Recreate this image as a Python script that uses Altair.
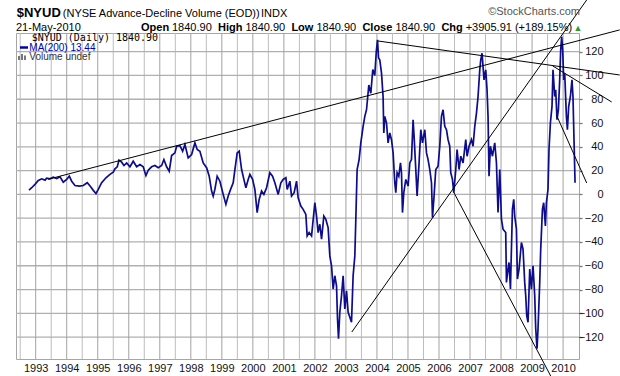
import altair as alt
import pandas as pd

# ---- data (decimal year, indicator value) ----
years = [
    1992.784, 1992.871, 1992.977, 1993.084, 1993.193, 1993.300, 1993.354, 1993.461, 1993.567, 1993.677,
    1993.783, 1993.889, 1993.999, 1994.082, 1994.160, 1994.266, 1994.405, 1994.534, 1994.662, 1994.772,
    1994.856, 1994.943, 1995.017, 1995.126, 1995.265, 1995.394, 1995.500, 1995.555, 1995.629, 1995.684,
    1995.771, 1995.845, 1995.932, 1996.038, 1996.144, 1996.254, 1996.360, 1996.466, 1996.553, 1996.628,
    1996.737, 1996.843, 1996.950, 1997.059, 1997.133, 1997.220, 1997.304, 1997.381, 1997.488, 1997.542,
    1997.649, 1997.736, 1997.810, 1997.916, 1998.026, 1998.132, 1998.206, 1998.293, 1998.399, 1998.509,
    1998.593, 1998.670, 1998.722, 1998.776, 1998.850, 1998.937, 1999.044, 1999.131, 1999.205, 1999.282,
    1999.366, 1999.421, 1999.495, 1999.559, 1999.637, 1999.711, 1999.775, 1999.849, 1999.904, 1999.991,
    2000.065, 2000.139, 2000.203, 2000.281, 2000.355, 2000.442, 2000.548, 2000.635, 2000.709, 2000.816,
    2000.903, 2000.977, 2001.064, 2001.106, 2001.193, 2001.247, 2001.331, 2001.408, 2001.460, 2001.547,
    2001.621, 2001.708, 2001.750, 2001.814, 2001.892, 2001.998, 2002.053, 2002.104, 2002.159, 2002.214,
    2002.288, 2002.352, 2002.426, 2002.481, 2002.536, 2002.588, 2002.642, 2002.697, 2002.729, 2002.761,
    2002.803, 2002.858, 2002.910, 2002.964, 2003.019, 2003.071, 2003.126, 2003.180, 2003.232, 2003.287,
    2003.319, 2003.361, 2003.425, 2003.480, 2003.554, 2003.609, 2003.664, 2003.738, 2003.802, 2003.866,
    2003.930, 2003.979, 2004.018, 2004.050, 2004.092, 2004.147, 2004.198, 2004.221, 2004.253, 2004.308,
    2004.359, 2004.414, 2004.469, 2004.521, 2004.575, 2004.608, 2004.650, 2004.704, 2004.759, 2004.791,
    2004.823, 2004.865, 2004.930, 2005.004, 2005.059, 2005.113, 2005.165, 2005.197, 2005.252, 2005.294,
    2005.358, 2005.413, 2005.468, 2005.542, 2005.597, 2005.648, 2005.703, 2005.758, 2005.790, 2005.841,
    2005.896, 2005.970, 2006.025, 2006.080, 2006.131, 2006.186, 2006.241, 2006.292, 2006.347, 2006.379,
    2006.434, 2006.476, 2006.541, 2006.583, 2006.647, 2006.702, 2006.776, 2006.863, 2006.905, 2006.969,
    2007.046, 2007.098, 2007.153, 2007.208, 2007.259, 2007.314, 2007.346, 2007.388, 2007.420, 2007.452,
    2007.507, 2007.549, 2007.581, 2007.613, 2007.658, 2007.723, 2007.797, 2007.852, 2007.903, 2007.958,
    2008.013, 2008.064, 2008.151, 2008.174, 2008.225, 2008.257, 2008.303, 2008.367, 2008.409, 2008.441,
    2008.496, 2008.528, 2008.580, 2008.657, 2008.709, 2008.763, 2008.796, 2008.828, 2008.870, 2008.925,
    2008.979, 2009.031, 2009.086, 2009.118, 2009.160, 2009.192, 2009.247, 2009.279, 2009.334, 2009.375,
    2009.430, 2009.462, 2009.514, 2009.546, 2009.591, 2009.643, 2009.675, 2009.730, 2009.762, 2009.804,
    2009.849, 2009.891, 2009.923, 2009.955, 2009.987, 2010.020, 2010.052, 2010.107, 2010.139, 2010.181,
    2010.236, 2010.287, 2010.319, 2010.352, 2010.386,
]
values = [
    3.6, 5.6, 8.4, 11.7, 13.1, 12.0, 13.7, 13.1, 14.5, 13.4, 14.8, 10.3, 12.6,
    15.3, 11.1, 7.5, 7.0, 7.5, 9.8, 6.4, 3.4, 0.8,
    4.2, 9.8, 14.0, 16.8, 18.7, 21.5, 23.2, 28.7, 27.1, 24.3, 26.5,
    23.2, 27.9, 23.2, 25.1, 23.2, 15.9, 20.4, 23.2, 24.3, 22.4,
    24.3, 29.3, 23.2, 19.5, 32.7, 34.9, 40.5, 41.0, 36.3, 41.9, 30.7,
    33.5, 43.3, 37.7, 36.3, 26.5, 22.4, 15.3, 2.8, -1.4, 4.2, 15.3, 11.1,
    0.0, -8.4, -1.4, 4.2, 9.8, 20.9, 34.9, 36.3, 20.9, 12.6, 5.6, 12.6, 16.8, 12.6,
    4.2, -15.3, -4.2, 2.8, 0.0, 5.6, 18.2, 15.3, 9.8, 0.0, 9.8, 12.6,
    14.0, 4.2, 11.1, -1.4, 1.4, 11.1, -2.8, -9.8, -12.6, -16.8, -34.9, -32.1, -34.9,
    -7.0, -18.2, -32.1, -25.1, -37.7, -18.2, -20.9, -27.9, -51.7, -60.0, -79.6, -68.4, -76.8,
    -104.7, -121.4, -99.1, -85.2, -68.4, -96.3, -81.0, -99.1, -103.3, -107.5,
    -68.4, -51.7, -20.9, 20.9, 29.3, 43.3, 57.2, 65.6, 71.2,
    92.0, 85.0, 105.0, 100.0, 120.0, 130.0, 115.0, 113.0, 102.0, 82.0,
    51.7, 65.6, 60.0, 43.3, 51.7, 46.0, 34.9, 9.8, 1.4, 18.2, 15.3,
    26.5, 18.2, -15.3, 1.4, 12.6, 7.0, 26.5, 29.3, 62.8, 48.8, 20.9, -1.4,
    26.5, 54.4, 43.3, 54.4, 34.9, 29.3, 20.9, 9.8, -19.5, -1.4, 20.9, 23.7,
    40.5, 65.6, 71.2, 57.2, 54.4, 46.0, 40.5, 18.2, 12.6, 1.4,
    20.9, 37.7, 20.9, 32.1, 26.5, 46.0, 32.1, 40.5, 46.0, 40.5,
    57.2, 68.4, 82.3, 104.7, 113.0, 118.7, 107.5, 96.3, 104.7, 87.9, 65.6,
    15.3, 40.5, 32.1, 43.3, 26.5, -15.3, 20.9, -20.9, -29.3,
    -32.1, -74.0, -62.8, -57.2, -79.6, -12.6, -4.2, -18.2, -29.3, -71.2, -62.8,
    -40.5, -46.0, -74.0, -85.2, -102.0, -107.5, -62.8, -79.6, -60.0, -85.2, -113.0, -129.8,
    -113.0, -74.0, -46.0, -12.6, -7.0, -26.5, -7.0, 4.2, 37.7, 60.0, 74.0,
    104.7, 82.3, 87.9, 62.8, 71.2, 96.3, 121.4, 132.5, 121.4, 96.3, 101.9,
    65.6, 54.4, 74.0, 82.3, 96.3, 82.3, 46.0, 9.8,
]

# hand-drawn trend lines (start/end in year, value units)
trend_x1 = [1993.40, 2004.028, 2003.190, 2006.476, 2009.666, 2009.785]
trend_y1 = [12.7, 129.0, -115.7, 1.8, 108.0, 66.8]
trend_x2 = [2011.824, 2011.824, 2010.761, 2009.601, 2011.566, 2010.761]
trend_y2 = [138.3, 100.4, 163.5, -152.7, 77.7, 9.6]

year_ticks = [1993, 1994, 1995, 1996, 1997, 1998, 1999, 2000, 2001, 2002,
              2003, 2004, 2005, 2006, 2007, 2008, 2009, 2010]
half_year_lines = [1992.5, 1993.5, 1994.5, 1995.5, 1996.5, 1997.5, 1998.5, 1999.5, 2000.5,
                   2001.5, 2002.5, 2003.5, 2004.5, 2005.5, 2006.5, 2007.5, 2008.5, 2009.5]
value_ticks = [-120, -100, -80, -60, -40, -20, 0, 20, 40, 60, 80, 100, 120]

X_DOMAIN = [1992.365, 2010.513]
Y_DOMAIN = [-138.4, 135.7]
FONT = "Liberation Sans"

xscale = alt.Scale(domain=X_DOMAIN, nice=False, zero=False)
yscale = alt.Scale(domain=Y_DOMAIN, nice=False, zero=False)

x_axis = alt.Axis(values=year_ticks, format="d", grid=False,
                  ticks=False, domain=False, labelPadding=12, labelBaseline="alphabetic",
                  labelFont=FONT, labelFontSize=11, labelColor="#111111",
                  labelFlush=False, labelOverlap=False, title=None)
y_axis = alt.Axis(orient="right", values=value_ticks, grid=False,
                  domain=False, tickSize=3, tickWidth=1.3, tickColor="#777777", labelAlign="right",
                  labelPadding=21, labelFont=FONT, labelFontSize=11, labelColor="#111111",
                  labelOverlap=False, title=None)

df = pd.DataFrame({"year": years, "value": values})
trend_df = pd.DataFrame({"x1": trend_x1, "y1": trend_y1, "x2": trend_x2, "y2": trend_y2})
one = pd.DataFrame({"k": [0]})

# grid drawn as explicit rules spanning the scale domain
vgrid_year = pd.DataFrame({"gx": year_ticks, "gy1": Y_DOMAIN[0], "gy2": Y_DOMAIN[1]})
vgrid_half = pd.DataFrame({"gx": half_year_lines, "gy1": Y_DOMAIN[0], "gy2": Y_DOMAIN[1]})
hgrid = pd.DataFrame({"gy": value_ticks, "gx1": X_DOMAIN[0], "gx2": X_DOMAIN[1]})


def vgrid(d, color):
    return alt.Chart(d).mark_rule(color=color, strokeWidth=1).encode(
        x=alt.X("gx:Q", scale=xscale, axis=x_axis),
        y=alt.Y("gy1:Q", scale=yscale, axis=y_axis),
        y2="gy2:Q",
    )


grid_half = vgrid(vgrid_half, "#bdbdbd")
grid_year = vgrid(vgrid_year, "#a2a2a2")
grid_h = alt.Chart(hgrid).mark_rule(color="#b0b0b0", strokeWidth=1.3).encode(
    x=alt.X("gx1:Q", scale=xscale, axis=x_axis),
    x2="gx2:Q",
    y=alt.Y("gy:Q", scale=yscale, axis=y_axis),
)

line = alt.Chart(df).mark_line(color="#0c0c8c", strokeWidth=1.7, clip=True).encode(
    x=alt.X("year:Q", scale=xscale, axis=x_axis),
    y=alt.Y("value:Q", scale=yscale, axis=y_axis),
)

trends = alt.Chart(trend_df).mark_rule(color="#000000", strokeWidth=1, clip=False).encode(
    x=alt.X("x1:Q", scale=xscale, axis=x_axis),
    y=alt.Y("y1:Q", scale=yscale, axis=y_axis),
    x2="x2:Q",
    y2="y2:Q",
)


def label(txt, x, y, size=11, weight="normal", color="#000000", font=FONT, align="left"):
    return alt.Chart(one).mark_text(
        align=align, baseline="alphabetic", fontSize=size, fontWeight=weight,
        color=color, font=font
    ).encode(x=alt.value(x), y=alt.value(y), text=alt.value(txt))


texts = [
    label("$NYUD", 0.7, -16, size=13, weight="bold"),
    label("(NYSE Advance-Decline Volume (EOD))", 46.8, -16, size=11),
    label("INDX", 245, -16, size=11),
    label("\u00a9StockCharts.com", 564, -18, size=11, color="#555555", align="right"),
    label("21-May-2010", 0, -2, size=11),
    label("Open", 125, -2, size=11, weight="bold"),
    label("1840.90", 156, -2, size=11),
    label("High", 202, -2, size=11, weight="bold"),
    label("1840.90", 229.4, -2, size=11),
    label("Low", 275.4, -2, size=11, weight="bold"),
    label("1840.90", 300.4, -2, size=11),
    label("Close", 346.4, -2, size=11, weight="bold"),
    label("1840.90", 379.4, -2, size=11),
    label("Chg", 425.4, -2, size=11, weight="bold"),
    label("+3905.91 (+189.15%)", 449.7, -2, size=11),
    label("\u25b2", 562, -2, size=9, color="#2e9a2e", align="center"),
    label("$NYUD (Daily) 1840.90", 15.7, 7.5, size=10, font="DejaVu Sans Mono"),
    label("MA(200) 13.44", 13.3, 17.5, size=10, color="#0000b0"),
    label("Volume undef", 13.3, 27, size=10, color="#333333"),
]

ma_dash = alt.Chart(one).mark_rule(color="#0000b0", strokeWidth=2.5).encode(
    x=alt.value(4), x2=alt.value(12), y=alt.value(14.5)
)
# small bar-chart glyph for the volume legend entry
vol_bars = [
    alt.Chart(one).mark_rule(color="#777777", strokeWidth=2).encode(
        x=alt.value(bx), y=alt.value(27), y2=alt.value(by))
    for bx, by in [(3, 23), (6, 21), (9, 22.5)]
]

chart = alt.layer(grid_half, grid_h, grid_year, line, trends, ma_dash, *vol_bars, *texts).properties(
    width=563,
    height=326,
    autosize=alt.AutoSizeParams(type="none"),
    padding={"left": 16, "top": 33, "right": 41, "bottom": 17},
    background="white",
).configure_view(stroke="#a6a6a6", strokeWidth=1)

chart.save("out.html", embed_options={"renderer": "svg", "actions": False})
